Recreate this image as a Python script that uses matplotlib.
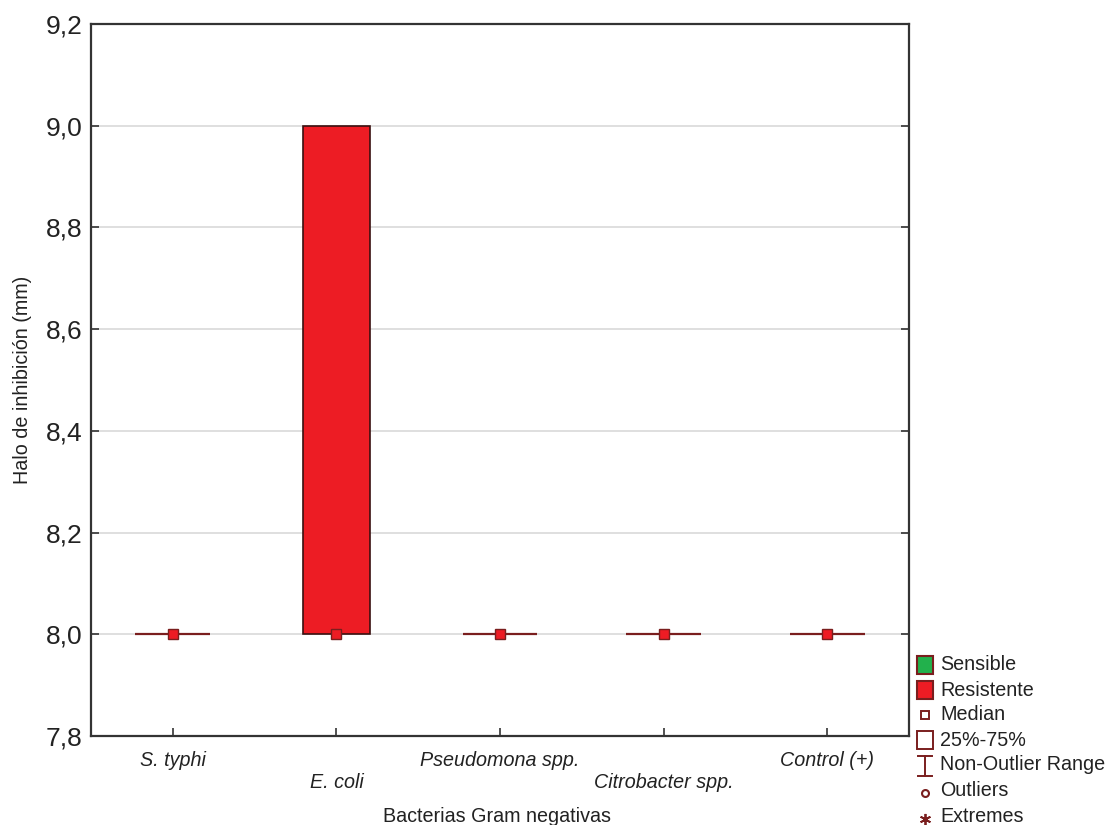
import matplotlib
matplotlib.use("Agg")
import matplotlib.pyplot as plt
from matplotlib.patches import Rectangle
from matplotlib.lines import Line2D

plt.rcParams['font.family'] = ['Liberation Sans', 'DejaVu Sans']

# Halo de inhibición por bacteria (mm)
categories = ["S. typhi", "E. coli", "Pseudomona spp.", "Citrobacter spp.", "Control (+)"]
medians = [8.0, 8.0, 8.0, 8.0, 8.0]
q1 = [8.0, 8.0, 8.0, 8.0, 8.0]
q3 = [8.0, 9.0, 8.0, 8.0, 8.0]
whisker_lo = [8.0, 8.0, 8.0, 8.0, 8.0]
whisker_hi = [8.0, 9.0, 8.0, 8.0, 8.0]
groups = ["Resistente", "Resistente", "Resistente", "Resistente", "Resistente"]
yticks = [7.8, 8.0, 8.2, 8.4, 8.6, 8.8, 9.0, 9.2]

group_colors = {"Sensible": "#22B14C", "Resistente": "#ED1C24"}
edge_dark = "#7A1E1E"
spine_col = "#333333"
text_col = "#222222"

W, H = 1108, 825
fig = plt.figure(figsize=(W / 100, H / 100), dpi=100)
ax = fig.add_axes([91 / W, 1 - 736 / H, (909 - 91) / W, (736 - 24) / H])

x = list(range(len(categories)))
box_w = 0.41
flat_w = 0.458

for i in x:
    height = q3[i] - q1[i]
    color = group_colors[groups[i]]
    if height > 0:
        ax.bar(i, height, bottom=q1[i], width=box_w, color=color,
               edgecolor="#3A1010", linewidth=1.2, zorder=3)
        ax.vlines(i, whisker_lo[i], q1[i], color=edge_dark, lw=1.2, zorder=2)
        ax.vlines(i, q3[i], whisker_hi[i], color=edge_dark, lw=1.2, zorder=2)
    else:
        ax.hlines(q1[i], i - flat_w / 2, i + flat_w / 2, color=edge_dark,
                  lw=1.6, zorder=3)
    ax.plot(i, medians[i], marker="s", markersize=6.5, markerfacecolor=color,
            markeredgecolor=edge_dark, markeredgewidth=1.0, zorder=4)

ax.set_xlim(-0.5, len(categories) - 0.5)
ax.set_ylim(7.8, 9.2)
ax.set_yticks(yticks)
ax.set_yticklabels([f"{v:.1f}".replace(".", ",") for v in yticks], fontsize=19,
                   color=text_col)
ax.set_xticks(x)
ax.set_xticklabels([])
for i, name in enumerate(categories):
    ax.annotate(name, xy=(i, 0), xycoords=("data", "axes fraction"),
                xytext=(0, -24 if i % 2 == 0 else -47), textcoords="offset pixels",
                ha="center", va="center", fontsize=14.2, style="italic",
                color=text_col)

ax.grid(axis="y", color="#D9D9D9", lw=1.2, zorder=0)
ax.set_axisbelow(True)
ax.tick_params(axis="y", direction="in", length=6, width=1.2, right=True,
               color=spine_col, pad=6)
ax.tick_params(axis="x", direction="in", length=6, width=1.2, color=spine_col)
for s in ax.spines.values():
    s.set_color(spine_col)
    s.set_linewidth(1.6)

ax.set_ylabel("Halo de inhibición (mm)", fontsize=14.2, labelpad=10,
              color=text_col)
fig.text(497 / W, 1 - 817 / H, "Bacterias Gram negativas", ha="center",
         va="center", fontsize=14.2, color=text_col)

# legend drawn in figure pixel space
def fx(px):
    return px / W

def fy(py):
    return 1 - py / H

def add_rect(x0, y0, w, h, fc, ec, lw=1.5):
    fig.add_artist(Rectangle((fx(x0), fy(y0 + h)), w / W, h / H, facecolor=fc,
                             edgecolor=ec, linewidth=lw, transform=fig.transFigure))

leg_x = 940
leg_items = ["Sensible", "Resistente", "Median", "25%-75%", "Non-Outlier Range",
             "Outliers", "Extremes"]
leg_y = [665, 690, 715, 740, 765, 791, 816]

add_rect(917, 656, 16, 18, group_colors["Sensible"], edge_dark)
add_rect(917, 681, 16, 18, group_colors["Resistente"], edge_dark)
add_rect(921, 711, 8, 8, "white", edge_dark, 1.4)
add_rect(917, 731, 16, 18, "white", edge_dark, 1.4)
fig.add_artist(Line2D([fx(918), fx(932)], [fy(756), fy(756)], color=edge_dark,
                      lw=1.4, transform=fig.transFigure))
fig.add_artist(Line2D([fx(918), fx(932)], [fy(776), fy(776)], color=edge_dark,
                      lw=1.4, transform=fig.transFigure))
fig.add_artist(Line2D([fx(925), fx(925)], [fy(756), fy(776)], color=edge_dark,
                      lw=1.4, transform=fig.transFigure))
fig.add_artist(Line2D([fx(925)], [fy(793)], marker="o", markersize=5,
                      markerfacecolor="white", markeredgecolor=edge_dark,
                      markeredgewidth=1.5, transform=fig.transFigure))
fig.add_artist(Line2D([fx(925)], [fy(819)], marker=(6, 2, 0), markersize=8,
                      markeredgecolor=edge_dark, markeredgewidth=1.3,
                      transform=fig.transFigure))
for name, yy in zip(leg_items, leg_y):
    fig.text(fx(leg_x), fy(yy), name, ha="left", va="center", fontsize=14.2,
             color=text_col)

fig.savefig("out.png", dpi=100)
